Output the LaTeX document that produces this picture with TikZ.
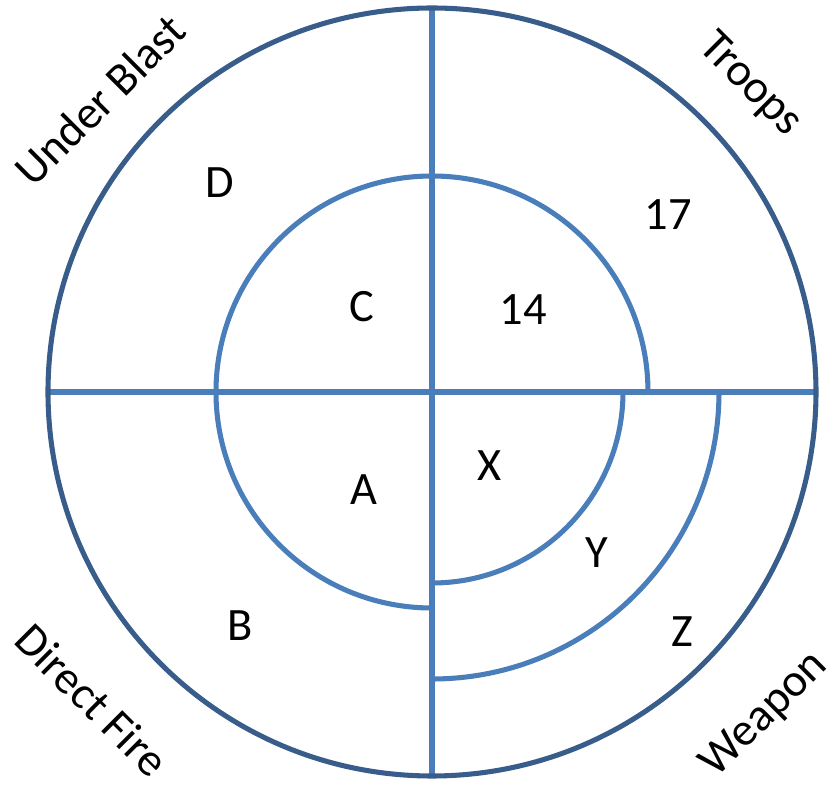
\documentclass[tikz,border=0pt]{standalone}
\usepackage{fontspec}
\setmainfont{Carlito}
\definecolor{ring}{RGB}{56,93,138}
\definecolor{rule}{RGB}{74,126,187}
\usetikzlibrary{positioning}
\tikzset{
  outer/.style={draw=ring, line width=3.6pt},
  part/.style={draw=rule, line width=3.6pt},
  zone/.style={font=\fontsize{33}{36}\selectfont, inner sep=0pt},
  corner/.style={font=\fontsize{33}{36}\selectfont, inner sep=0pt},
}
\begin{document}
\begin{tikzpicture}[x=0.025cm, y=0.025cm]
    \useasboundingbox (-432,-395) rectangle (405,392);
    % dividers and rings
    \draw[part] (-384,0) -- (384,0);
    \draw[part] (0,384) -- (0,-384);
    \draw[part] (216,0) arc[start angle=0, end angle=270, radius=216];
    \draw[part] (191,0) arc[start angle=0, end angle=-90, radius=191];
    \draw[part] (287,0) arc[start angle=0, end angle=-90, radius=287];
    \draw[outer] (0,0) circle[radius=384];
    % quadrant titles
    \node[corner, rotate=45] (ub) at (-332,292) {Under Blast};
    \node[corner, rotate=-45] (tr) at (318,307) {Troops};
    \node[corner, rotate=-45] (df) at (-340,-308) {Direct Fire};
    \node[corner, rotate=45] (wp) at (333,-323) {Weapon};
    % zone labels
    \node[zone] (d) at (-212,209) {D};
    \node[zone] (c) at (-70,85) {C};
    \node[zone] (n14) at (91,82) {14};
    \node[zone] (n17) at (236,177) {17};
    \node[zone] (x) at (58,-74) {X};
    \node[zone] (a) at (-68,-98) {A};
    \node[zone] (y) at (165,-161) {Y};
    \node[zone] (b) at (-192,-234) {B};
    \node[zone] (z) at (250,-240) {Z};
\end{tikzpicture}
\end{document}
